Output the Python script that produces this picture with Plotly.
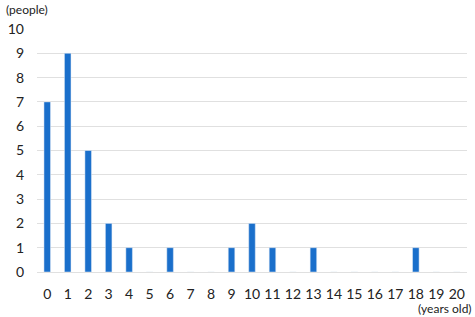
import plotly.graph_objects as go

ages = [str(i) for i in range(21)]
people = [7, 9, 5, 2, 1, 0, 1, 0, 0, 1, 2, 1, 0, 1, 0, 0, 0, 0, 1, 0, 0]
y_ticks = list(range(0, 11))

fig = go.Figure(go.Bar(x=ages, y=people, marker_color="#1A6FCB", width=0.32))

font = dict(family="Lato, Carlito, Calibri, sans-serif", size=14, color="#222222")
fig.update_layout(
    width=475, height=317,
    margin=dict(l=32, r=8, t=29, b=45),
    paper_bgcolor="white", plot_bgcolor="white",
    showlegend=False, font=font,
    bargap=0.68,
)
fig.update_xaxes(type="category", showgrid=False, showline=False, ticks="",
                 ticklabelstandoff=12, tickfont=dict(size=14))
fig.update_yaxes(range=[0, 10], tickvals=y_ticks, showgrid=True, gridcolor="#E0E0E0",
                 gridwidth=1, zeroline=True, zerolinecolor="#E0E0E0", zerolinewidth=1,
                 showline=False, ticks="", ticklabelstandoff=12, tickfont=dict(size=14))
fig.add_annotation(text="(people)", xref="paper", yref="paper", x=0, y=1,
                   xanchor="left", yanchor="bottom", xshift=-33, yshift=10,
                   showarrow=False, font=dict(size=12))
fig.add_annotation(text="(years old)", xref="paper", yref="paper", x=1, y=0,
                   xanchor="right", yanchor="top", xshift=7, yshift=-27,
                   showarrow=False, font=dict(size=12))
fig.write_html("out.html")
